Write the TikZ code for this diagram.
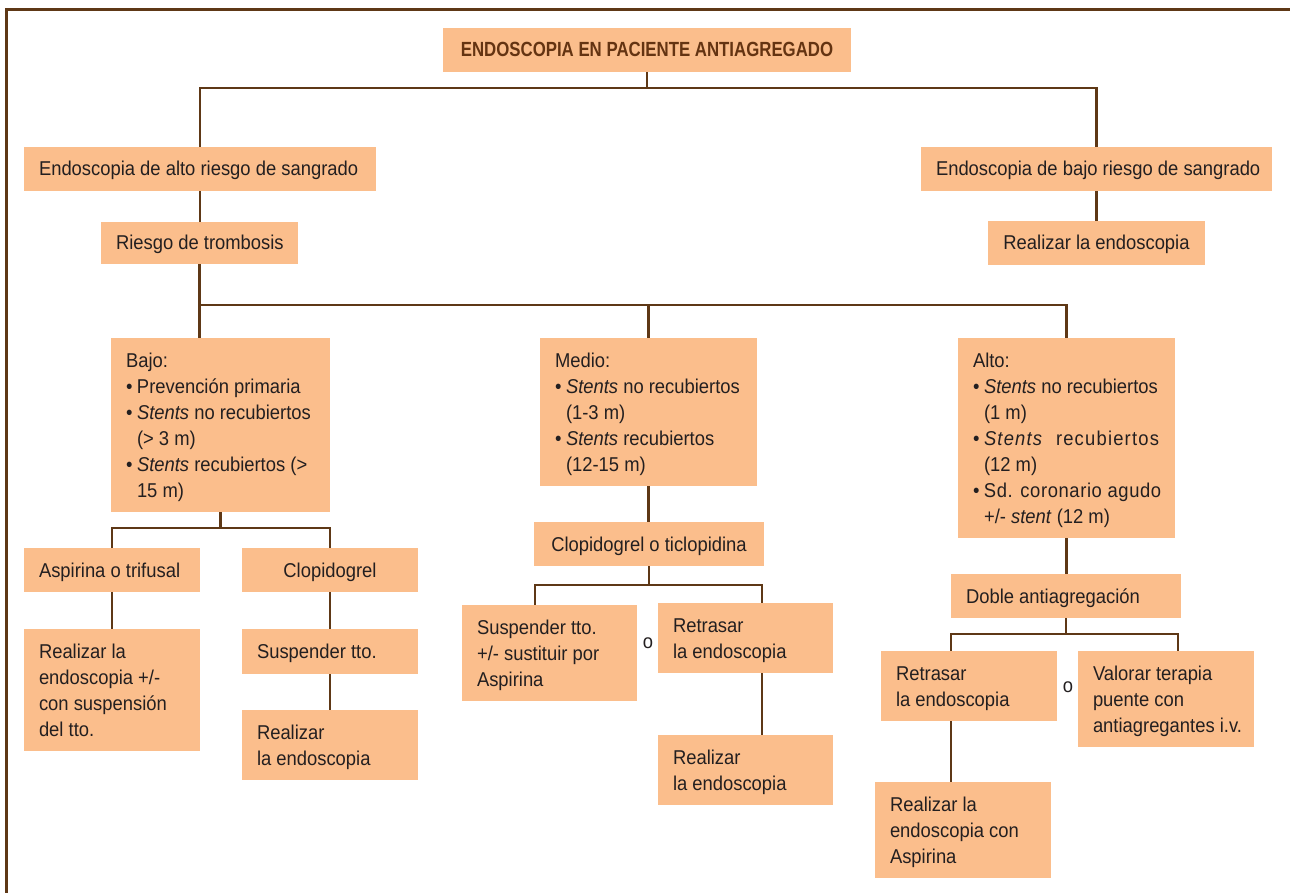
\documentclass[tikz,border=0pt]{standalone}
\usepackage{fontspec}
\setmainfont{Liberation Sans}[FakeStretch=0.92]
\newfontfamily\headfont{Liberation Sans}[FakeStretch=0.82]

\definecolor{boxfill}{RGB}{251,190,140}
\definecolor{linec}{RGB}{94,56,22}
\definecolor{textc}{RGB}{35,31,32}
\definecolor{titlec}{RGB}{100,52,18}

% bullet and hanging indent for list lines
\newcommand\bul{\makebox[11pt][l]{•}}
\newcommand\ind{\hspace*{11pt}}

% \chartbox{name}{left}{top}{right}{bottom}{l|c}{lines}
\newcommand\chartbox[7]{%
  \pgfmathsetmacro\bxw{#4-#2}%
  \pgfmathsetmacro\bxh{#5-#3}%
  \pgfmathsetmacro\bxcx{(#2+#4)/2}%
  \pgfmathsetmacro\bxcy{(#3+#5)/2}%
  \pgfmathsetmacro\bxtw{#4-#2-30}%
  \node[box, minimum width=\bxw pt, minimum height=\bxh pt] (#1) at (\bxcx,\bxcy)
    {\raisebox{-1.8pt}[\height][\depth]{\makebox[\bxtw pt][#6]{\begin{tabular}{@{}l@{}}#7\end{tabular}}}};}

\tikzset{
  box/.style={fill=boxfill, draw=none, inner sep=0pt, text=textc,
    font=\fontsize{20}{26}\selectfont},
  conn/.style={draw=linec, line width=2.2pt},
  frameline/.style={draw=linec, line width=3pt},
  orlabel/.style={text=textc, inner sep=0pt, font=\fontsize{20}{26}\selectfont}
}

\begin{document}
\begin{tikzpicture}[x=1pt,y=-1pt]
\useasboundingbox (0,0) rectangle (1290,893);

% open frame along the top and left edges
\draw[frameline] (6.5,893) -- (6.5,9.5) -- (1290,9.5);

% boxes
\chartbox{title}{443}{28}{851}{72}{c}{\headfont\bfseries\fontsize{20.5}{26}\selectfont\color{titlec}ENDOSCOPIA EN PACIENTE ANTIAGREGADO}
\chartbox{altoR}{24}{147}{376}{191}{l}{Endoscopia de alto riesgo de sangrado}
\chartbox{bajoR}{921}{147}{1272}{191}{l}{Endoscopia de bajo riesgo de sangrado}
\chartbox{riesgo}{101}{222}{298}{264}{l}{Riesgo de trombosis}
\chartbox{realizarR}{988}{221}{1205}{265}{c}{Realizar la endoscopia}

\chartbox{bajo}{111}{338}{330}{512}{l}{Bajo:\\
\bul Prevención primaria\\
\bul \textit{Stents} no recubiertos\\
\ind (> 3 m)\\
\bul \textit{Stents} recubiertos (>\\
\ind 15 m)}
\chartbox{medio}{540}{338}{757}{486}{l}{Medio:\\
\bul \textit{Stents} no recubiertos\\
\ind (1-3 m)\\
\bul \textit{Stents} recubiertos\\
\ind (12-15 m)}
\chartbox{altoT}{958}{338}{1175}{538}{l}{Alto:\\
\bul \textit{Stents} no recubiertos\\
\ind (1 m)\\
\bul {\addfontfeature{LetterSpace=6}\textit{Stents}\ \ recubiertos}\\
\ind (12 m)\\
\bul {\addfontfeature{LetterSpace=3}Sd. coronario agudo}\\
\ind +/- \textit{stent} (12 m)}

\chartbox{aspirina}{24}{548}{200}{592}{l}{Aspirina o trifusal}
\chartbox{clop}{242}{548}{418}{592}{c}{Clopidogrel}
\chartbox{realizar1}{24}{629}{200}{751}{l}{Realizar la\\endoscopia +/-\\con suspensión\\del tto.}
\chartbox{suspender1}{242}{629}{418}{674}{l}{Suspender tto.}
\chartbox{realizar2}{242}{710}{418}{780}{l}{Realizar\\la endoscopia}

\chartbox{clopticlo}{534}{522}{764}{566}{c}{Clopidogrel o ticlopidina}
\chartbox{sus2}{462}{605}{637}{701}{l}{Suspender tto.\\+/- sustituir por\\Aspirina}
\chartbox{retr1}{658}{603}{833}{673}{l}{Retrasar\\la endoscopia}
\chartbox{realizar3}{658}{735}{833}{805}{l}{Realizar\\la endoscopia}

\chartbox{doble}{951}{574}{1181}{618}{l}{Doble antiagregación}
\chartbox{retr2}{881}{651}{1057}{721}{l}{Retrasar\\la endoscopia}
\chartbox{valorar}{1078}{651}{1254}{747}{l}{Valorar terapia\\puente con\\antiagregantes i.v.}
\chartbox{realizar4}{875}{782}{1051}{878}{l}{Realizar la\\endoscopia con\\Aspirina}

\node[orlabel] (or1) at (648,643) {o};
\node[orlabel] (or2) at (1068,687) {o};

% junction points of the branching bars
\coordinate (j1) at (title.south |- 0,88);
\coordinate (j2) at (riesgo.south |- 0,305);
\coordinate (j3) at (bajo.south |- 0,528);
\coordinate (k1) at (535,585);
\coordinate (k2) at (762,585);
\coordinate (m1) at (951,634);
\coordinate (m2) at (1178,634);

% connectors
\draw[conn] (title.south) -- (j1);
\draw[conn] (altoR.north) |- (j1) -| (bajoR.north);
\draw[conn] (altoR.south) -- (altoR.south |- riesgo.north);
\draw[conn] (bajoR.south) -- (bajoR.south |- realizarR.north);

\draw[conn] (riesgo.south) -- (riesgo.south |- bajo.north);
\draw[conn] (j2) -| (medio.north);
\draw[conn] (j2) -| (altoT.north);

\draw[conn] (bajo.south) -- (j3);
\draw[conn] (aspirina.north) |- (j3) -| (clop.north);
\draw[conn] (aspirina.south) -- (aspirina.south |- realizar1.north);
\draw[conn] (clop.south) -- (clop.south |- suspender1.north);
\draw[conn] (suspender1.south) -- (suspender1.south |- realizar2.north);

\draw[conn] (medio.south) -- (medio.south |- clopticlo.north);
\draw[conn] (clopticlo.south) -- (clopticlo.south |- k1);
\draw[conn] (k1 |- sus2.north) -- (k1) -- (k2) -- (k2 |- retr1.north);
\draw[conn] (k2 |- retr1.south) -- (k2 |- realizar3.north);

\draw[conn] (altoT.south) -- (altoT.south |- doble.north);
\draw[conn] (doble.south) -- (doble.south |- m1);
\draw[conn] (m1 |- retr2.north) -- (m1) -- (m2) -- (m2 |- valorar.north);
\draw[conn] (m1 |- retr2.south) -- (m1 |- realizar4.north);
\end{tikzpicture}
\end{document}
